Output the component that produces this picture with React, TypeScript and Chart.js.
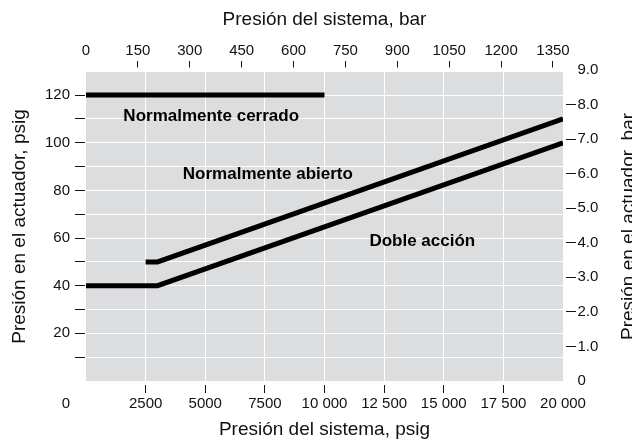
import React, { useEffect, useRef } from "react";
import { Chart, registerables } from "chart.js";

Chart.register(...registerables);

// ---- data ----
const ncPsig = [0, 10000];
const ncAct = [120, 120];
const noPsig = [2500, 3000, 20000];
const noAct = [50, 50, 110];
const daPsig = [0, 3000, 20000];
const daAct = [40, 40, 100];

const seriesNames = ["Normalmente cerrado", "Normalmente abierto", "Doble acción"];

const psigTicks = [0, 2500, 5000, 7500, 10000, 12500, 15000, 17500, 20000];
const barTicks = [0, 150, 300, 450, 600, 750, 900, 1050, 1200, 1350];
const actPsigTicks = [0, 10, 20, 30, 40, 50, 60, 70, 80, 90, 100, 110, 120];
const actBarTicks = [0, 1, 2, 3, 4, 5, 6, 7, 8, 9];

// label anchors (data units: system psig, actuator psig)
const labelPsig = [5250, 7625, 14100];
const labelAct = [109.2, 84.8, 56.6];

// ---- style ----
const FONT = "'Liberation Sans', Arial, Helvetica, sans-serif";
const INK = "#111111";
const CLEAR = "rgba(0,0,0,0)";
const PLOT_BG = "#dcdddf";
const PSI_PER_BAR = 14.5038;
const X_MAX = 20000;
const Y_MAX = 129.7;

const tickFont = { family: FONT, size: 15 };
const titleFont = { family: FONT, size: 19 };

function fmtPsig(v: number): string {
  if (v >= 10000) {
    return `${Math.floor(v / 1000)} ${String(v % 1000).padStart(3, "0")}`;
  }
  return String(v);
}

const decorPlugin = {
  id: "decor",
  beforeDraw(chart: any) {
    const { ctx, chartArea } = chart;
    ctx.save();
    ctx.fillStyle = PLOT_BG;
    ctx.fillRect(chartArea.left, chartArea.top, chartArea.right - chartArea.left, chartArea.bottom - chartArea.top);
    ctx.restore();
  },
  afterDraw(chart: any) {
    const { ctx, chartArea, scales } = chart;
    ctx.save();
    // series labels
    ctx.fillStyle = "#000";
    ctx.font = `bold 17px ${FONT}`;
    ctx.textAlign = "center";
    ctx.textBaseline = "alphabetic";
    seriesNames.forEach((name, i) => {
      ctx.fillText(name, scales.x.getPixelForValue(labelPsig[i]), scales.y.getPixelForValue(labelAct[i]));
    });
    // shared origin "0"
    ctx.fillStyle = INK;
    ctx.font = `15px ${FONT}`;
    ctx.textAlign = "right";
    ctx.textBaseline = "middle";
    ctx.fillText("0", scales.y.right - 16, chartArea.bottom + 23);
    // right axis title (reads bottom-to-top)
    ctx.font = `19px ${FONT}`;
    ctx.textAlign = "center";
    ctx.translate(scales.y2.right - 3.5, (chartArea.top + chartArea.bottom) / 2);
    ctx.rotate(-Math.PI / 2);
    ctx.fillText("Presión en el actuador, bar", 0, 0);
    ctx.restore();
  },
};

function line(label: string, xs: number[], ys: number[]) {
  return {
    label,
    data: xs.map((x, i) => ({ x, y: ys[i] })),
    borderColor: "#000",
    backgroundColor: "#000",
    borderWidth: 5,
    pointRadius: 0,
    borderCapStyle: "butt",
    borderJoinStyle: "miter",
    tension: 0,
    fill: false,
    xAxisID: "x",
    yAxisID: "y",
  };
}

export default function App() {
  const ref = useRef<HTMLCanvasElement | null>(null);

  useEffect(() => {
    if (!ref.current) return;
    const chart = new Chart(ref.current, {
      type: "line",
      data: {
        datasets: [
          line(seriesNames[0], ncPsig, ncAct),
          line(seriesNames[1], noPsig, noAct),
          line(seriesNames[2], daPsig, daAct),
        ] as any,
      },
      options: {
        animation: false,
        responsive: false,
        events: [],
        layout: { padding: 0 },
        plugins: { legend: { display: false }, tooltip: { enabled: false } },
        scales: {
          x: {
            type: "linear",
            position: "bottom",
            min: 0,
            max: X_MAX,
            afterBuildTicks: (s: any) => {
              s.ticks = psigTicks.map((v) => ({ value: v }));
            },
            afterFit: (s: any) => {
              s.height = 61;
            },
            border: { display: false },
            grid: {
              color: (c: any) => (c.tick && c.tick.value > 0 && c.tick.value < X_MAX ? "#ffffff" : CLEAR),
              lineWidth: 1,
              tickLength: 12,
              tickWidth: 1,
              tickColor: (c: any) => (c.tick && c.tick.value > 0 && c.tick.value < X_MAX ? INK : CLEAR),
              tickBorderDash: [0, 4, 8, 100],
            },
            ticks: {
              font: tickFont,
              color: INK,
              padding: 2,
              maxRotation: 0,
              autoSkip: false,
              callback: (v: any) => (v === 0 ? "" : fmtPsig(v)),
            },
            title: {
              display: true,
              text: "Presión del sistema, psig",
              font: titleFont,
              color: INK,
              padding: { top: 0, bottom: 1 },
            },
          },
          x2: {
            type: "linear",
            position: "top",
            min: 0,
            max: X_MAX / PSI_PER_BAR,
            afterBuildTicks: (s: any) => {
              s.ticks = barTicks.map((v) => ({ value: v }));
            },
            afterFit: (s: any) => {
              s.height = 72;
            },
            border: { display: false },
            grid: {
              drawOnChartArea: false,
              tickLength: 11,
              tickWidth: 1,
              tickColor: (c: any) => (c.tick && c.tick.value > 0 ? INK : CLEAR),
              tickBorderDash: [6.5, 100],
            },
            ticks: {
              font: tickFont,
              color: INK,
              padding: 1,
              maxRotation: 0,
              autoSkip: false,
              callback: (v: any) => String(v),
            },
            title: {
              display: true,
              text: "Presión del sistema, bar",
              font: titleFont,
              color: INK,
              padding: { top: 8, bottom: 0 },
            },
          },
          y: {
            type: "linear",
            position: "left",
            min: 0,
            max: Y_MAX,
            afterBuildTicks: (s: any) => {
              s.ticks = actPsigTicks.map((v) => ({ value: v }));
            },
            afterFit: (s: any) => {
              s.width = 86;
            },
            border: { display: false },
            grid: {
              color: (c: any) => (c.tick && c.tick.value > 0 ? "#ffffff" : CLEAR),
              lineWidth: 1,
              tickLength: 11,
              tickWidth: 1,
              tickColor: (c: any) => (c.tick && c.tick.value > 0 ? INK : CLEAR),
              tickBorderDash: [10, 100],
            },
            ticks: {
              font: tickFont,
              color: INK,
              padding: 5,
              autoSkip: false,
              callback: (v: any) => (v !== 0 && v % 20 === 0 ? String(v) : ""),
            },
            title: {
              display: true,
              text: "Presión en el actuador, psig",
              font: titleFont,
              color: INK,
              padding: { top: 8, bottom: 0 },
            },
          },
          y2: {
            type: "linear",
            position: "right",
            min: 0,
            max: Y_MAX / PSI_PER_BAR,
            afterBuildTicks: (s: any) => {
              s.ticks = actBarTicks.map((v) => ({ value: v }));
            },
            afterFit: (s: any) => {
              s.width = 69;
            },
            border: { display: false },
            grid: {
              drawOnChartArea: false,
              tickLength: 13,
              tickWidth: 1,
              tickColor: (c: any) => (c.tick && c.tick.value >= 1 && c.tick.value <= 8 ? INK : CLEAR),
              tickBorderDash: [0, 3, 10, 100],
            },
            ticks: {
              font: tickFont,
              color: INK,
              padding: 1.5,
              autoSkip: false,
              callback: (v: any) => (v === 0 ? "0" : Number(v).toFixed(1)),
            },
            title: { display: false },
          },
        },
      } as any,
      plugins: [decorPlugin],
    });
    return () => chart.destroy();
  }, []);

  return (
    <div style={{ position: "fixed", left: 0, top: 0, width: 632, height: 442, background: "#fff" }}>
      <canvas ref={ref} width={632} height={442} style={{ display: "block", width: 632, height: 442 }} />
    </div>
  );
}
